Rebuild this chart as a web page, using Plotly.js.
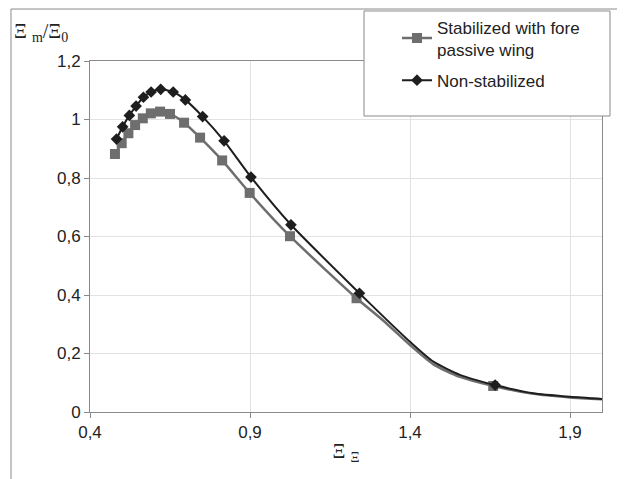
<!DOCTYPE html>
<html>
<head>
<meta charset="utf-8">
<script src="https://cdn.plot.ly/plotly-3.0.1.min.js"></script>
<style>html,body{margin:0;padding:0;background:#fff;}</style>
</head>
<body>
<div id="chart" style="width:628px;height:479px;"></div>
<script>
// Stabilized with fore passive wing (marked points)
var stabX = [0.478, 0.499, 0.520, 0.541, 0.565, 0.590, 0.619, 0.650, 0.694, 0.744, 0.813, 0.899, 1.025, 1.233, 1.660];
var stabY = [0.882, 0.919, 0.953, 0.981, 1.004, 1.021, 1.027, 1.019, 0.989, 0.938, 0.860, 0.749, 0.601, 0.389, 0.089];
// Stabilized: unmarked points along the smooth curve
var stabTailX = [1.317, 1.400, 1.473, 1.556, 1.785, 1.900, 2.025];
var stabTailY = [0.312, 0.229, 0.163, 0.120, 0.062, 0.050, 0.042];

// Non-stabilized (marked points)
var nonX = [0.483, 0.502, 0.523, 0.544, 0.567, 0.591, 0.621, 0.660, 0.698, 0.752, 0.819, 0.903, 1.028, 1.242, 1.666];
var nonY = [0.933, 0.975, 1.014, 1.046, 1.076, 1.094, 1.103, 1.094, 1.067, 1.010, 0.927, 0.803, 0.640, 0.406, 0.092];
// Non-stabilized: unmarked points along the smooth curve
var nonTailX = [1.317, 1.400, 1.473, 1.556, 1.785, 1.900, 2.025];
var nonTailY = [0.326, 0.240, 0.172, 0.127, 0.064, 0.052, 0.043];

var seriesNames = ["Stabilized with fore<br>passive wing", "Non-stabilized"];

function merge(ax, ay, bx, by) {
  var pts = [];
  for (var i = 0; i < ax.length; i++) pts.push([ax[i], ay[i]]);
  for (var j = 0; j < bx.length; j++) pts.push([bx[j], by[j]]);
  pts.sort(function (a, b) { return a[0] - b[0]; });
  return {x: pts.map(function (p) { return p[0]; }), y: pts.map(function (p) { return p[1]; })};
}

var stabCurve = merge(stabX, stabY, stabTailX, stabTailY);
var nonCurve = merge(nonX, nonY, nonTailX, nonTailY);

var grayC = '#6e6e6e';
var blackC = '#1e1e1e';

var traces = [
  {x: stabCurve.x, y: stabCurve.y, mode: 'lines', line: {color: grayC, width: 2.5, shape: 'spline', smoothing: 0.6}, showlegend: false, hoverinfo: 'skip'},
  {x: stabX, y: stabY, mode: 'markers', marker: {symbol: 'square', size: 10, color: grayC}, showlegend: false},
  {x: nonCurve.x, y: nonCurve.y, mode: 'lines', line: {color: blackC, width: 2, shape: 'spline', smoothing: 0.6}, showlegend: false, hoverinfo: 'skip'},
  {x: nonX, y: nonY, mode: 'markers', marker: {symbol: 'diamond', size: 9, color: blackC}, showlegend: false},
  {x: [null], y: [null], mode: 'lines+markers', name: seriesNames[0], legendgroup: 'g1', line: {color: grayC, width: 2.5}, marker: {symbol: 'square', size: 10, color: grayC}},
  {x: [null], y: [null], mode: 'lines+markers', name: seriesNames[1], legendgroup: 'g2', line: {color: blackC, width: 2}, marker: {symbol: 'diamond', size: 9, color: blackC}}
];

var tickFont = {family: 'Liberation Sans, Arial, sans-serif', size: 17, color: '#222'};
var axisCommon = {
  showgrid: true, gridcolor: '#e2e2e2', gridwidth: 1,
  showline: true, linecolor: '#8a8a8a', linewidth: 1, mirror: true,
  ticks: 'outside', ticklen: 5, tickcolor: '#8a8a8a', tickwidth: 1,
  zeroline: false, tickfont: tickFont
};

var layout = {
  width: 628, height: 479,
  margin: {l: 90, r: 26, t: 61, b: 67, pad: 0, autoexpand: false},
  paper_bgcolor: '#fff', plot_bgcolor: '#fff',
  separators: ', ',
  showlegend: true,
  xaxis: Object.assign({}, axisCommon, {
    range: [0.4, 2.0], tick0: 0.4, dtick: 0.5, automargin: false,
    title: {text: 'Ξ <sub>Ξ</sub>', font: {family: 'Liberation Serif, Times New Roman, serif', size: 20, color: '#222'}, standoff: 2}
  }),
  yaxis: Object.assign({}, axisCommon, {
    range: [0, 1.2], tick0: 0, dtick: 0.2, automargin: false
  }),
  legend: {
    x: 0.5996, xanchor: 'left', y: 1.147, yanchor: 'top',
    bgcolor: 'rgba(0,0,0,0)', borderwidth: 0,
    font: {family: 'Liberation Sans, Arial, sans-serif', size: 17, color: '#222'},
    tracegroupgap: 6
  },
  annotations: [
    {text: 'Ξ <sub>m</sub>/Ξ<sub>0</sub>', xref: 'paper', yref: 'paper', x: -0.152, y: 1.08,
     xanchor: 'left', yanchor: 'middle', showarrow: false,
     font: {family: 'Liberation Serif, Times New Roman, serif', size: 20, color: '#222'}}
  ],
  shapes: [
    {type: 'rect', xref: 'paper', yref: 'paper', x0: 0.5352, x1: 1.0156, y0: 0.8433, y1: 1.1425,
     line: {color: '#8a8a8a', width: 1}, fillcolor: '#fff', layer: 'above'},
    {type: 'line', xref: 'paper', yref: 'paper', x0: -0.1543, x1: 1.0293, y0: 1.1481, y1: 1.1481,
     line: {color: '#8a8a8a', width: 1}},
    {type: 'line', xref: 'paper', yref: 'paper', x0: -0.1543, x1: -0.1543, y0: 1.1481, y1: -0.21,
     line: {color: '#8a8a8a', width: 1}}
  ]
};

Plotly.newPlot('chart', traces, layout, {displayModeBar: false, staticPlot: true});
</script>
</body>
</html>
